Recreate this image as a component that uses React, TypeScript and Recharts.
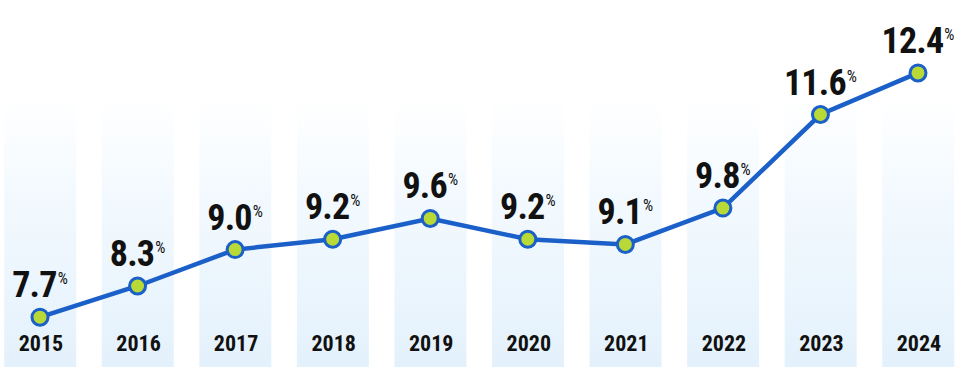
import React from 'react';
import { ComposedChart, Line, Bar, XAxis, YAxis, LabelList } from 'recharts';

const years = [2015, 2016, 2017, 2018, 2019, 2020, 2021, 2022, 2023, 2024];
const rates = [7.7, 8.3, 9.0, 9.2, 9.6, 9.2, 9.1, 9.8, 11.6, 12.4];
const backgroundLevel = [12.0, 12.0, 12.0, 12.0, 12.0, 12.0, 12.0, 12.0, 12.0, 12.0];

const data = years.map((y, i) => ({ year: y, rate: rates[i], bg: backgroundLevel[i] }));

const FONT = '"Liberation Sans Narrow", "Roboto Condensed", "DejaVu Sans Condensed", "Liberation Sans", sans-serif';
const BLUE = '#1b5fc8';

const ValueLabel = (props: any) => {
  const { x, y, value } = props;
  return (
    <text x={x} y={y - 20} textAnchor="middle" fill="#111" fontFamily={FONT}>
      <tspan fontSize={36} fontWeight={700} letterSpacing={-0.8}>{Number(value).toFixed(1)}</tspan>
      <tspan fontSize={16} fontWeight={400} dy={-13} dx={1}>%</tspan>
    </text>
  );
};

const YearTick = (props: any) => {
  const { x, y, payload } = props;
  return (
    <text x={x + 1} y={y - 24} textAnchor="middle" fill="#111" fontFamily={FONT} fontSize={22} fontWeight={700}>
      {payload.value}
    </text>
  );
};

export default function App() {
  return (
    <div style={{ position: 'absolute', left: 0, top: 0, width: 960, height: 384, background: '#fff' }}>
      <ComposedChart width={960} height={384} data={data} margin={{ top: 60, right: 42, bottom: 0, left: 40 }}>
        <defs>
          <linearGradient id="colGrad" x1="0" y1="0" x2="0" y2="1">
            <stop offset="0%" stopColor="#f2f9ff" stopOpacity={0} />
            <stop offset="35%" stopColor="#eef7fe" stopOpacity={0.7} />
            <stop offset="100%" stopColor="#e3f1fc" stopOpacity={1} />
          </linearGradient>
        </defs>
        <XAxis
          dataKey="year"
          type="number"
          domain={[2015, 2024]}
          ticks={years}
          axisLine={false}
          tickLine={false}
          height={17}
          tick={<YearTick />}
          interval={0}
        />
        <YAxis hide domain={[6.741, 12.649]} />
        <Bar dataKey="bg" barSize={72} fill="url(#colGrad)" isAnimationActive={false} />
        <Line
          dataKey="rate"
          stroke={BLUE}
          strokeWidth={4.5}
          dot={{ r: 8, fill: '#b8d936', stroke: BLUE, strokeWidth: 3 }}
          isAnimationActive={false}
        >
          <LabelList dataKey="rate" content={<ValueLabel />} />
        </Line>
      </ComposedChart>
    </div>
  );
}
